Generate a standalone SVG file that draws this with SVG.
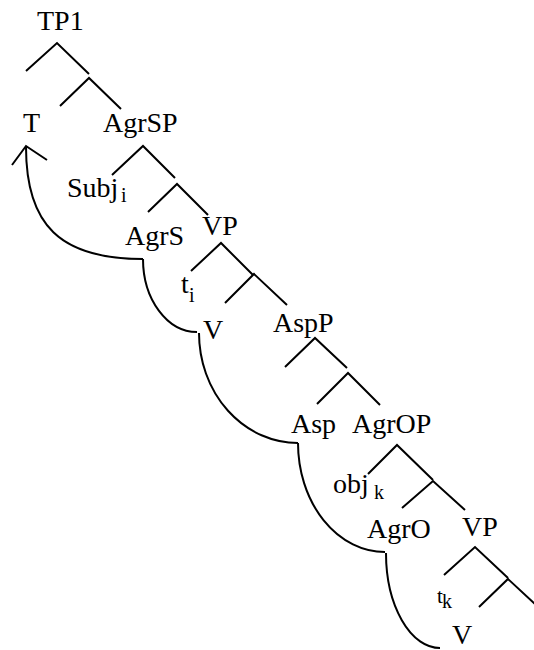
<svg xmlns="http://www.w3.org/2000/svg" width="534" height="650" viewBox="0 0 534 650">
<style>
.lbl{font-family:'Liberation Serif','DejaVu Serif','Noto Serif','Times New Roman',serif;font-size:28px;fill:#000}
.sub{font-size:20px}
.br{fill:none;stroke:#000;stroke-width:2;stroke-linecap:butt;stroke-linejoin:miter}
.mv{fill:none;stroke:#000;stroke-width:2}
</style>
<rect width="534" height="650" fill="#fff"/>
<g id="connectors">
<g id="branches">
<polyline class="br" points="26,71 57,43 89,74"/>
<polyline class="br" points="60,106 89,78 121,109"/>
<polyline class="br" points="112,175 143,146 175,178"/>
<polyline class="br" points="148,212 177,184 208,215"/>
<polyline class="br" points="191,271 221,243 253,275"/>
<polyline class="br" points="225,303 254,274 287,305"/>
<polyline class="br" points="285,367 315,338 347,368"/>
<polyline class="br" points="317,404 348,373 380,405"/>
<polyline class="br" points="368,474 397,445 433,480"/>
<polyline class="br" points="402,508 433,481 465,510"/>
<polyline class="br" points="444,575 475,547 508,578"/>
<polyline class="br" points="479,607 508,579 536,605"/>
</g>
<g id="movement">
<path class="mv" d="M143,259 C60,259 26,225 26,147"/>
<polyline class="mv" points="12,165 26,146 47,160"/>
<path class="mv" d="M143,259 A54,73 0 0 0 197,332"/>
<path class="mv" d="M199,333 A99,110 0 0 0 298,443"/>
<path class="mv" d="M298,443 A87,109 0 0 0 385,552"/>
<path class="mv" d="M386,553 A54,95 0 0 0 440,648"/>
</g>
</g>
<g font-family="Liberation Serif, serif">
<g id="n-TP1"><text class="lbl" x="37" y="30">TP1</text></g>
<g id="n-T"><text class="lbl" x="23" y="132">T</text></g>
<g id="n-AgrSP"><text class="lbl" x="103" y="132">AgrSP</text></g>
<g id="n-Subj"><text class="lbl" x="67" y="197">Subj</text><text class="lbl sub" x="121" y="202">i</text></g>
<g id="n-AgrS"><text class="lbl" x="125" y="245">AgrS</text></g>
<g id="n-VP1"><text class="lbl" x="202" y="235">VP</text></g>
<g id="n-ti"><text class="lbl" x="181" y="293">t</text><text class="lbl sub" x="189" y="302">i</text></g>
<g id="n-V1"><text class="lbl" x="203" y="339">V</text></g>
<g id="n-AspP"><text class="lbl" x="273" y="332">AspP</text></g>
<g id="n-Asp"><text class="lbl" x="291" y="433">Asp</text></g>
<g id="n-AgrOP"><text class="lbl" x="352" y="433">AgrOP</text></g>
<g id="n-obj"><text class="lbl" x="333" y="493">obj</text><text class="lbl sub" x="374" y="499">k</text></g>
<g id="n-AgrO"><text class="lbl" x="367" y="538">AgrO</text></g>
<g id="n-VP2"><text class="lbl" x="462" y="536">VP</text></g>
<g id="n-tk"><text class="lbl" x="437" y="603" style="font-size:21px">t</text><text class="lbl sub" x="442" y="608">k</text></g>
<g id="n-V2"><text class="lbl" x="452" y="644">V</text></g>
</g>
</svg>
